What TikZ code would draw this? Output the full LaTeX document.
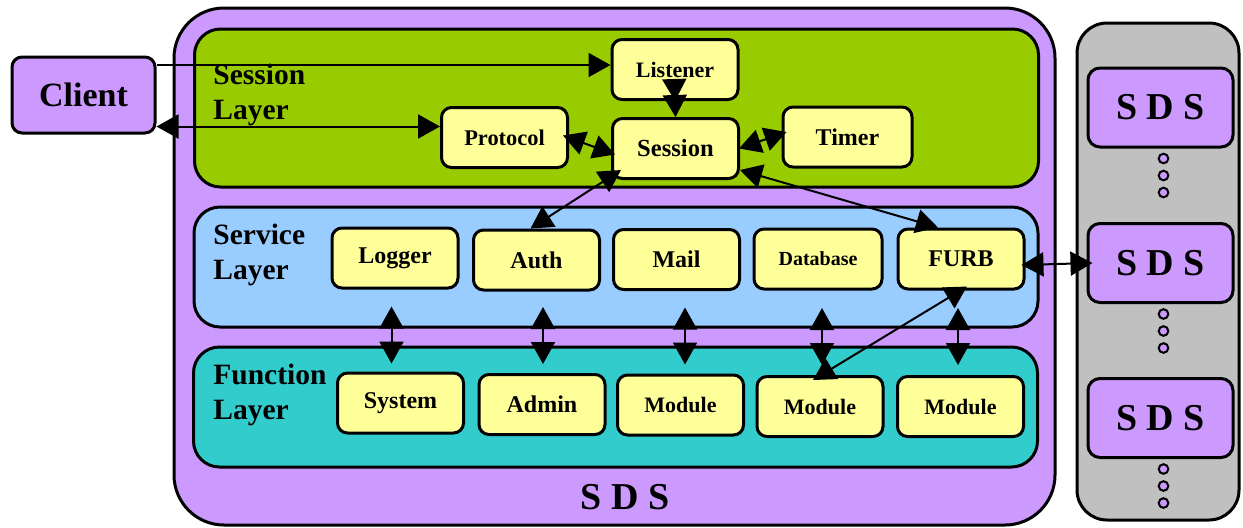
\documentclass[tikz,border=0pt]{standalone}
\usepackage{fontspec}
\setmainfont{Liberation Serif}
\usepackage{xcolor}
\definecolor{sdsPurple}{HTML}{CC99FF}
\definecolor{sessionGreen}{HTML}{99CC00}
\definecolor{serviceBlue}{HTML}{99CCFF}
\definecolor{functionTeal}{HTML}{33CCCC}
\definecolor{clusterGray}{HTML}{C0C0C0}
\definecolor{compYellow}{HTML}{FFFF99}
\usepackage{tikz}
\usetikzlibrary{positioning,calc,arrows.meta}
\tikzset{%
  compBox/.style={%
    rectangle,
    rounded corners=5pt,
    draw=black,
    line width=1.5pt,
    fill=compYellow,
    minimum width=63pt,
    minimum height=30pt,
    inner sep=0pt,
    align=center,
    font=\bfseries\fontsize{12}{14}\selectfont
  },
  layerBox/.style={%
    rectangle,
    rounded corners=13pt,
    draw=black,
    line width=1.5pt,
    minimum width=422pt,
    minimum height=60pt,
    inner sep=0pt
  },
  layerLabel/.style={%
    anchor=north west,
    inner sep=0pt,
    align=left,
    font=\bfseries\fontsize{14.75}{17.5}\selectfont
  },
  sdsBox/.style={%
    rectangle,
    rounded corners=6pt,
    draw=black,
    line width=1.5pt,
    fill=sdsPurple,
    minimum width=72.5pt,
    minimum height=39.5pt,
    inner sep=0pt,
    font=\bfseries\fontsize{19}{22}\selectfont
  },
  moreDot/.style={%
    draw=black,
    line width=1pt,
    fill=sdsPurple
  },
  arrowLine/.style={%
    -{Triangle[length=11pt,width=12pt]},
    line width=1pt,
    color=black
  },
  dblArrow/.style={%
    {Triangle[length=11pt,width=12pt]}-{Triangle[length=11pt,width=12pt]},
    line width=1pt,
    color=black
  }
}

\begin{document}
\begin{tikzpicture}[x=0.5pt,y=-0.5pt]
  \useasboundingbox (0,0) rectangle (1243,527);

  % containers
  \node[rectangle, rounded corners=25pt, draw=black, line width=1.5pt, fill=sdsPurple,
        minimum width=440.5pt, minimum height=258.5pt, inner sep=0pt] (sds) at (614.5,266.5) {};
  \node[font=\bfseries\fontsize{19}{22}\selectfont] (sdsName) at (625,497) {S D S};
  \node[rectangle, rounded corners=15pt, draw=black, line width=1.5pt, fill=clusterGray,
        minimum width=81pt, minimum height=248.5pt, inner sep=0pt] (cluster) at (1158,271.5) {};

  \node[layerBox, minimum height=79pt, fill=sessionGreen] (sessionLayer) at (616.5,108) {};
  \node[layerBox, fill=serviceBlue] (serviceLayer) at (616,267) {};
  \node[layerBox, fill=functionTeal] (functionLayer) at (615.5,407) {};

  \node[layerLabel] (sessionLabel) at (213,64) {Session\\Layer};
  \node[layerLabel] (serviceLabel) at (213,224) {Service\\Layer};
  \node[layerLabel] (functionLabel) at (213,364) {Function\\Layer};

  % client
  \node[sdsBox, rounded corners=5pt, minimum width=71.5pt, minimum height=38pt,
        font=\bfseries\fontsize{17}{20}\selectfont] (client) at (83.5,95) {Client};

  % session layer
  \node[compBox, font=\bfseries\fontsize{11}{13}\selectfont] (listener) at (675,69.5) {Listener};
  \node[compBox, font=\bfseries\fontsize{11.2}{13}\selectfont] (protocol) at (504.5,137.5) {Protocol};
  \node[compBox, font=\bfseries\fontsize{12.3}{14}\selectfont] (session) at (675.5,148.5) {Session};
  \node[compBox, minimum width=64.5pt] (timer) at (847.5,137) {Timer};

  % service layer
  \node[compBox] (logger) at (395,258) {Logger};
  \node[compBox] (auth) at (536.5,260) {Auth};
  \node[compBox] (mail) at (676.5,259.5) {Mail};
  \node[compBox, minimum width=64pt, font=\bfseries\fontsize{10}{12}\selectfont] (database) at (818,259) {Database};
  \node[compBox] (furb) at (961,259) {FURB};

  % function layer
  \node[compBox] (system) at (400.5,403) {System};
  \node[compBox] (admin) at (542,404.5) {Admin};
  \node[compBox, font=\bfseries\fontsize{11}{13}\selectfont] (moduleA) at (680.5,405) {Module};
  \node[compBox, font=\bfseries\fontsize{11}{13}\selectfont] (moduleB) at (820,406.5) {Module};
  \node[compBox, font=\bfseries\fontsize{11}{13}\selectfont] (moduleC) at (960.5,406.5) {Module};

  % other servers
  \node[sdsBox] (sdsA) at (1160.5,107.5) {S D S};
  \node[sdsBox] (sdsB) at (1160.5,263) {S D S};
  \node[sdsBox] (sdsC) at (1160.5,418) {S D S};
  \foreach \n in {sdsA,sdsB,sdsC}
    \foreach \d in {0,1,2}
      \draw[moreDot] ($(\n.south)+(3,10+17*\d)$) circle (2.4pt);

  % connectors
  \coordinate (listenerIn) at ($(listener.west)+(0,-4.5)$);
  \coordinate (protocolIn) at ($(protocol.west)+(0,-11)$);
  \draw[arrowLine] (client.east |- listenerIn) -- (listenerIn);
  \draw[dblArrow] (client.east |- protocolIn) -- (protocolIn);
  \draw[dblArrow] (listener.south) -- (session.north);
  \draw[dblArrow] ($(protocol.east)+(-6,-2)$) -- ($(session.west)+(4,6)$);
  \draw[dblArrow] ($(session.east)+(-1,0)$) -- ($(timer.west)+(5,-5)$);
  \draw[dblArrow] ($(session.south west)+(10,-10)$) -- ($(auth.north)+(-6,0)$);
  \draw[dblArrow] ($(session.south east)+(0,-10)$) -- ($(furb.north)+(-23,0)$);
  \draw[dblArrow] ($(furb.east)+(-4,6)$) -- ($(sdsB.west)+(6,0)$);

  \draw[dblArrow] ($(system.north)+(-9,-65)$) -- ($(system.north)+(-9,-8)$);
  \draw[dblArrow] ($(admin.north)+(1,-66)$) -- ($(admin.north)+(1,-9)$);
  \draw[dblArrow] ($(moduleA.north)+(4.5,-66)$) -- ($(moduleA.north)+(4.5,-9)$);
  \draw[dblArrow] ($(moduleB.north)+(2,-67)$) -- ($(moduleB.north)+(2,-10)$);
  \draw[dblArrow] ($(moduleC.north)+(-2.5,-67)$) -- ($(moduleC.north)+(-2.5,-10)$);
  \draw[dblArrow] ($(moduleB.north)+(-7,5)$) -- ($(furb.south)+(6,-4)$);
\end{tikzpicture}
\end{document}
